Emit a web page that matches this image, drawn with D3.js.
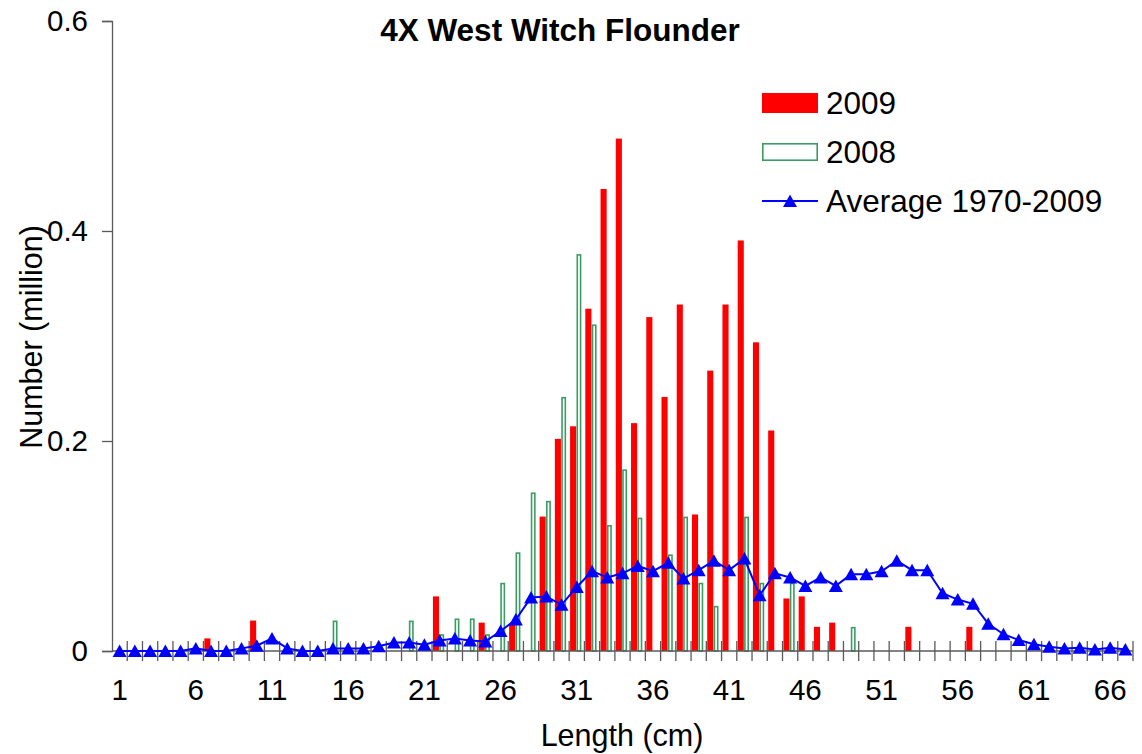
<!DOCTYPE html>
<html>
<head>
<meta charset="utf-8">
<script src="https://cdn.jsdelivr.net/npm/d3@7"></script>
<style>
  html, body { margin: 0; padding: 0; background: #fff; }
  svg { display: block; }
  text { font-family: "Liberation Sans", Arial, sans-serif; fill: #000; }
</style>
</head>
<body>
<svg id="chart" width="1142" height="754"></svg>
<script>
// ---- data ----
const lengths = d3.range(1, 68);            // 1..67 cm
const xTickLabels = [1, 6, 11, 16, 21, 26, 31, 36, 41, 46, 51, 56, 61, 66];
const yTicks = [0, 0.2, 0.4, 0.6];

const y2009 = [
  0, 0, 0, 0, 0, 0, 0.012, 0, 0, 0.029,
  0, 0, 0, 0, 0, 0, 0, 0, 0, 0,
  0, 0.052, 0, 0, 0.027, 0, 0.026, 0, 0.128, 0.202,
  0.214, 0.326, 0.440, 0.488, 0.217, 0.318, 0.242, 0.330, 0.130, 0.267,
  0.330, 0.391, 0.294, 0.210, 0.050, 0.052, 0.023, 0.027, 0, 0,
  0, 0, 0.023, 0, 0, 0, 0.023, 0, 0, 0,
  0, 0, 0, 0, 0, 0, 0
];
const y2008 = [
  0, 0, 0, 0, 0, 0, 0, 0, 0, 0,
  0, 0, 0, 0, 0.029, 0, 0, 0, 0, 0.029,
  0, 0.016, 0.031, 0.031, 0.016, 0.065, 0.094, 0.151, 0.143, 0.242,
  0.378, 0.311, 0.120, 0.173, 0.127, 0, 0.092, 0.128, 0.065, 0.043,
  0, 0.128, 0.065, 0, 0.065, 0, 0, 0, 0.023, 0,
  0, 0, 0, 0, 0, 0, 0, 0, 0, 0,
  0, 0, 0, 0, 0, 0, 0
];
const avg1970_2009 = [
  0, 0, 0, 0, 0, 0.0025, 0, 0, 0.0025, 0.005,
  0.012, 0.0025, 0, 0, 0.0025, 0.0025, 0.0025, 0.0045, 0.008, 0.008,
  0.006, 0.010, 0.012, 0.010, 0.009, 0.019, 0.030, 0.051, 0.052, 0.044,
  0.061, 0.076, 0.070, 0.074, 0.081, 0.076, 0.084, 0.069, 0.077, 0.086,
  0.077, 0.088, 0.053, 0.074, 0.070, 0.062, 0.070, 0.062, 0.073, 0.073,
  0.076, 0.086, 0.077, 0.077, 0.055, 0.049, 0.045, 0.026, 0.016, 0.0105,
  0.0065, 0.004, 0.0025, 0.003, 0.0015, 0.003, 0.0015
];
const seriesNames = ["2009", "2008", "Average 1970-2009"];

// ---- layout ----
const svg = d3.select("#chart");
const mLeft = 112, mRight = 1133, mTop = 21, mBottom = 651;
const RED = "#ff0000", GREEN = "#3a9d63", BLUE = "#0000ff", AXIS = "#5a5a5a";

const x = d3.scaleBand().domain(lengths).range([mLeft, mRight]).padding(0);
const bw = x.bandwidth();
const xs = d3.scaleBand().domain(["2009", "2008"]).range([bw * 0.06, bw * 0.86]).padding(0);
const y = d3.scaleLinear().domain([0, 0.6]).range([mBottom, mTop]);

const rows = lengths.map((L, i) => ({ L, v09: y2009[i], v08: y2008[i], avg: avg1970_2009[i] }));

// bars 2009
svg.append("g").selectAll("rect")
  .data(rows.filter(d => d.v09 > 0))
  .join("rect")
  .attr("x", d => x(d.L) + xs("2009"))
  .attr("width", xs.bandwidth())
  .attr("y", d => y(d.v09))
  .attr("height", d => y(0) - y(d.v09))
  .attr("fill", RED);

// bars 2008 (outlined)
const sw = 1.6;
svg.append("g").selectAll("rect")
  .data(rows.filter(d => d.v08 > 0))
  .join("rect")
  .attr("x", d => x(d.L) + xs("2008") + sw / 2 + 0.3)
  .attr("width", xs.bandwidth() - sw - 1.2)
  .attr("y", d => y(d.v08) + sw / 2)
  .attr("height", d => Math.max(0, y(0) - y(d.v08) - sw / 2))
  .attr("fill", "#fff")
  .attr("stroke", GREEN)
  .attr("stroke-width", sw);

// y axis
const yAxis = d3.axisLeft(y).tickValues(yTicks).tickSize(10).tickPadding(14)
  .tickFormat(d => d === 0 ? "0" : d3.format(".1f")(d));
const gy = svg.append("g").attr("transform", `translate(${mLeft},0)`).call(yAxis);
gy.select(".domain").attr("stroke", AXIS).attr("stroke-width", 1.3);
gy.selectAll(".tick line").attr("stroke", AXIS).attr("stroke-width", 1.3);
gy.selectAll(".tick text").attr("font-size", 29.5).attr("font-family", "Liberation Sans, Arial, sans-serif").attr("fill", "#000");

// x axis line
svg.append("line").attr("x1", mLeft).attr("x2", mRight).attr("y1", mBottom).attr("y2", mBottom)
  .attr("stroke", AXIS).attr("stroke-width", 1.3);
// x ticks (between categories, crossing the axis)
const boundaries = lengths.map(L => x(L)).concat([mRight]);
svg.append("g").selectAll("line")
  .data(boundaries.slice(1))
  .join("line")
  .attr("x1", d => d).attr("x2", d => d)
  .attr("y1", mBottom - 10).attr("y2", mBottom + 10)
  .attr("stroke", AXIS).attr("stroke-width", 1.3);
// x tick labels
svg.append("g").selectAll("text")
  .data(xTickLabels)
  .join("text")
  .attr("x", d => x(d) + bw / 2)
  .attr("y", 700)
  .attr("text-anchor", "middle")
  .attr("font-size", 29.5)
  .text(d => d);

// average line
const line = d3.line().x(d => x(d.L) + bw / 2).y(d => y(d.avg));
svg.append("path").datum(rows).attr("d", line)
  .attr("fill", "none").attr("stroke", BLUE).attr("stroke-width", 2);
const tri = "M0,-6.5L7,6L-7,6Z";
svg.append("g").selectAll("path")
  .data(rows)
  .join("path")
  .attr("transform", d => `translate(${x(d.L) + bw / 2},${y(d.avg)})`)
  .attr("d", tri)
  .attr("fill", BLUE);

// title
svg.append("text").attr("x", 560).attr("y", 41).attr("text-anchor", "middle")
  .attr("font-size", 31.5).attr("font-weight", "bold").text("4X West Witch Flounder");

// axis titles
svg.append("text").attr("x", 622).attr("y", 746).attr("text-anchor", "middle")
  .attr("font-size", 30.5).text("Length (cm)");
svg.append("text").attr("transform", "translate(42,337) rotate(-90)").attr("text-anchor", "middle")
  .attr("font-size", 30.5).text("Number (million)");

// legend
const lg = svg.append("g");
lg.append("rect").attr("x", 762).attr("y", 93).attr("width", 56).attr("height", 20).attr("fill", RED);
lg.append("rect").attr("x", 762.8).attr("y", 143.8).attr("width", 54.4).attr("height", 16.4)
  .attr("fill", "#fff").attr("stroke", GREEN).attr("stroke-width", sw);
lg.append("line").attr("x1", 762).attr("x2", 818).attr("y1", 201).attr("y2", 201)
  .attr("stroke", BLUE).attr("stroke-width", 2);
lg.append("path").attr("transform", "translate(790,201)").attr("d", tri).attr("fill", BLUE);
const legY = [113.5, 163, 212];
lg.selectAll("text.leg").data(seriesNames).join("text").attr("class", "leg")
  .attr("x", 826).attr("y", (d, i) => legY[i]).attr("font-size", 31.5).text(d => d);
</script>
</body>
</html>
